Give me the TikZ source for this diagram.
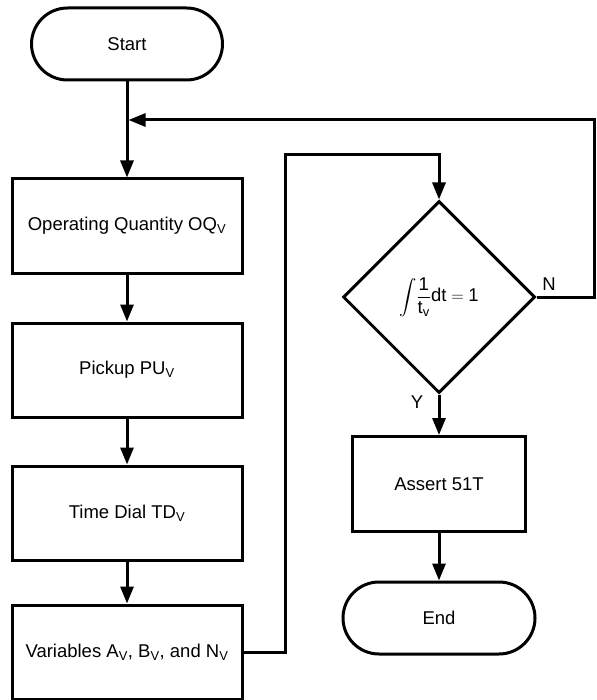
\documentclass[tikz,border=0pt]{standalone}
\usepackage{amsmath}
\usepackage{fontspec}
\setmainfont{Liberation Sans}
\usetikzlibrary{shapes.geometric,arrows.meta}

\begin{document}
\begin{tikzpicture}
  [x=1pt, y=-1pt, line width=3pt,
   font=\fontsize{18.5}{22}\selectfont,
   box/.style={rectangle, draw, minimum width=230pt, minimum height=94pt},
   term/.style={rectangle, draw, rounded corners=36pt, minimum height=72pt},
   arr/.style={-{Triangle[length=17pt,width=13pt]}}]
\useasboundingbox (0,0) rectangle (596,700);

\node[term, minimum width=191pt] (start) at (127,44) {Start};
\node[box] (oq) at (127,226) {Operating Quantity OQ\textsubscript{V}};
\node[box] (pu) at (127,370) {Pickup PU\textsubscript{V}};
\node[box] (td) at (127,513) {Time Dial TD\textsubscript{V}};
\node[box] (var) at (127,652)
  {Variables A\textsubscript{V}, B\textsubscript{V}, and N\textsubscript{V}};
\node[diamond, draw, aspect=1, minimum width=192pt, minimum height=192pt,
  inner sep=0pt] (dec) at (439,297)
  {$\displaystyle\int\!\frac{\text{1}}{\text{t}_{\text{v}}}\text{dt} = \text{1}$};
\node[box, minimum width=173pt, minimum height=95pt] (assert) at (439,484) {Assert 51T};
\node[term, minimum width=192pt] (stop) at (439,618) {End};

\node (ylab) at (417,402) {Y};
\node (nlab) at (549,284) {N};

\coordinate (join) at (127,120);
\coordinate (up) at (285,155);
\coordinate (back) at (594,120);

\draw[arr] (start) -- (oq);
\draw[arr] (oq) -- (pu);
\draw[arr] (pu) -- (td);
\draw[arr] (td) -- (var);
\draw[arr] (var.east) -| (up) -| (dec.north);
\draw[arr, shorten >=1.5pt] (dec.east) -| (back) -- (join);
\draw[arr] (dec.south) -- (assert);
\draw[arr] (assert) -- (stop);
\end{tikzpicture}
\end{document}
